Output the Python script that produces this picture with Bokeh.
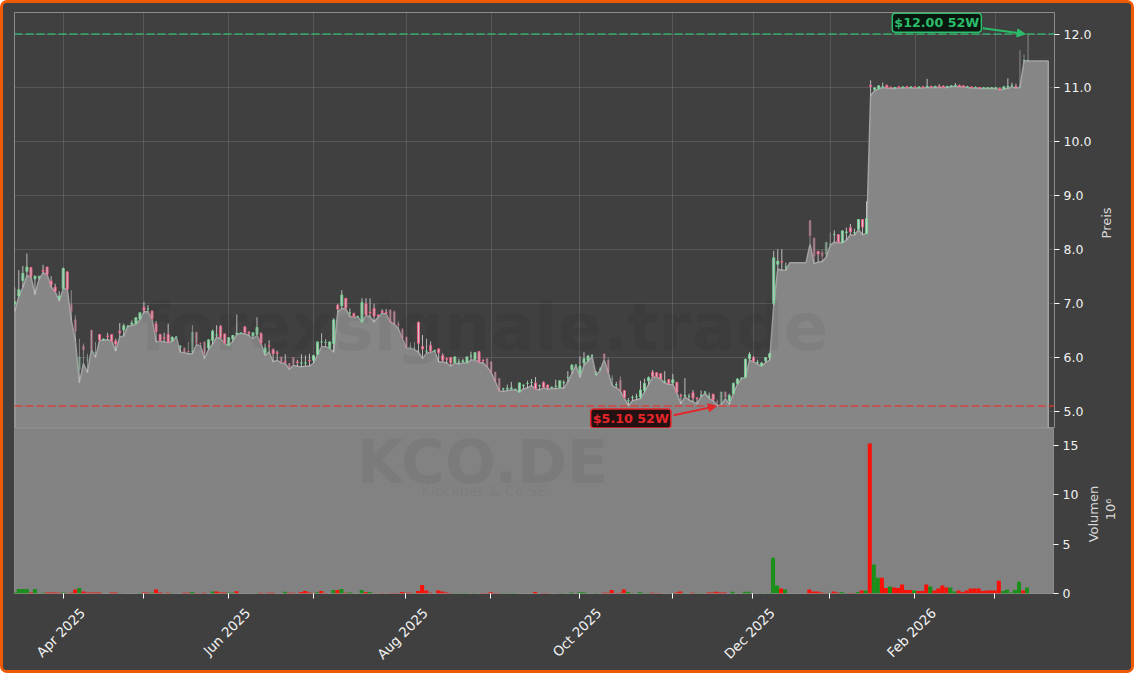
import math
from bokeh.plotting import figure
from bokeh.layouts import column, row
from bokeh.models import (ColumnDataSource, FixedTicker, Range1d, Span, Label, Arrow, NormalHead, LinearAxis)
from bokeh.embed import file_html
from bokeh.resources import INLINE

nan = float("nan")

opens = [
 6.99,7.14,7.43,7.60,7.67,7.46,7.49,7.62,7.68,7.42,
 7.31,7.10,7.28,7.59,6.99,6.70,5.78,6.21,5.95,6.51,
 6.09,6.43,6.33,6.40,6.43,6.31,6.49,6.51,6.58,6.62,
 6.63,6.72,6.93,6.90,6.86,6.63,6.43,6.37,6.43,6.31,
 6.38,6.20,6.18,6.12,6.10,6.47,6.27,6.29,6.18,6.32,
 6.42,6.58,6.44,6.23,6.35,6.44,6.45,6.57,6.47,6.40,
 6.43,6.45,6.09,6.22,6.15,6.09,6.01,5.93,5.89,6.00,
 5.92,5.90,5.90,5.95,5.95,6.06,6.29,6.28,6.17,6.26,
 6.97,6.96,7.10,6.83,6.82,6.76,6.66,7.00,6.84,6.91,
 6.79,6.86,6.84,6.88,6.85,6.62,6.52,6.38,6.20,6.18,
 6.65,6.21,6.12,6.23,6.12,6.16,6.04,5.98,6.00,5.91,
 5.92,5.93,5.91,6.03,5.97,6.11,5.95,5.98,5.92,5.73,
 5.61,5.42,5.42,5.43,5.41,5.36,5.48,5.52,5.54,5.53,
 5.48,5.54,5.49,5.45,5.47,5.44,5.53,5.63,5.78,5.86,
 5.71,5.90,5.95,6.04,5.70,5.78,6.07,5.95,5.60,5.50,
 5.58,5.39,5.20,5.26,5.27,5.27,5.39,5.57,5.73,5.72,
 5.70,5.56,5.59,5.53,5.54,5.30,5.29,5.28,5.35,5.25,
 5.30,5.36,5.28,5.32,5.18,5.14,5.36,5.20,5.33,5.52,
 5.62,5.64,5.98,6.00,5.91,5.85,5.94,6.00,7.00,7.73,
 7.78,7.68,nan,nan,nan,nan,nan,8.54,8.22,7.97,
 7.95,7.92,8.10,8.28,8.28,8.13,8.32,8.41,8.32,8.38,
 8.56,8.30,11.05,10.97,10.99,11.02,11.05,11.01,11.00,11.02,
 11.01,11.02,11.01,11.02,11.01,11.02,11.02,11.03,11.02,11.03,
 11.03,11.02,11.03,11.04,11.05,11.04,11.02,11.02,11.01,11.01,
 11.00,11.00,11.00,11.00,10.99,10.98,11.02,11.04,11.03,11.02,
 11.50,11.51,nan,nan,nan,nan,nan,
]
highs = [
 7.30,7.62,7.70,7.93,7.67,7.52,7.52,7.72,7.68,7.51,
 7.37,7.23,7.67,7.60,7.25,6.78,6.35,6.26,6.07,6.51,
 6.29,6.43,6.36,6.46,6.43,6.35,6.64,6.63,6.60,6.69,
 6.75,6.84,7.03,6.97,6.88,6.68,6.44,6.46,6.63,6.39,
 6.39,6.23,6.19,6.29,6.60,6.47,6.28,6.30,6.34,6.52,
 6.60,6.61,6.44,6.38,6.42,6.80,6.46,6.58,6.49,6.47,
 6.75,6.47,6.26,6.32,6.17,6.13,6.02,6.06,5.90,6.00,
 5.96,6.06,6.04,6.07,6.05,6.30,6.45,6.34,6.30,6.73,
 7.00,7.25,7.10,6.91,6.83,6.78,7.10,7.10,7.10,7.00,
 6.80,6.90,6.90,6.90,6.87,6.67,6.55,6.39,6.28,6.29,
 6.67,6.42,6.35,6.30,6.15,6.17,6.08,6.00,6.01,6.03,
 5.98,5.98,6.03,6.11,6.10,6.12,5.97,5.99,5.93,5.74,
 5.62,5.44,5.50,5.55,5.43,5.54,5.50,5.57,5.60,5.64,
 5.50,5.56,5.50,5.46,5.59,5.58,5.58,5.75,5.88,5.87,
 6.02,6.10,6.05,6.06,5.75,5.82,6.07,6.00,5.67,5.55,
 5.65,5.40,5.25,5.30,5.33,5.57,5.61,5.65,5.77,5.73,
 5.71,5.75,5.60,5.70,5.55,5.33,5.62,5.33,5.40,5.27,
 5.39,5.38,5.35,5.33,5.22,5.37,5.37,5.33,5.54,5.62,
 5.63,5.98,6.10,6.03,5.96,5.92,6.01,6.09,7.98,8.01,
 8.01,7.76,nan,nan,nan,nan,nan,8.55,8.22,7.98,
 8.00,8.14,8.32,8.36,8.29,8.36,8.41,8.48,8.39,8.57,
 8.57,8.90,11.14,11.02,11.05,11.10,11.06,11.03,11.02,11.04,
 11.03,11.04,11.03,11.03,11.03,11.04,11.17,11.04,11.04,11.07,
 11.05,11.04,11.05,11.09,11.06,11.05,11.04,11.03,11.03,11.02,
 11.02,11.02,11.02,11.02,11.01,11.04,11.18,11.10,11.08,11.70,
 11.62,12.00,nan,nan,nan,nan,nan,
]
lows = [
 6.85,7.14,7.30,7.52,7.50,7.17,7.45,7.57,7.54,7.31,
 7.22,7.05,7.27,7.27,6.69,6.32,5.53,5.89,5.72,6.15,
 6.00,6.32,6.32,6.33,6.31,6.12,6.38,6.40,6.58,6.59,
 6.62,6.70,6.85,6.85,6.72,6.29,6.31,6.29,6.28,6.30,
 6.38,6.10,6.09,6.07,6.07,6.24,6.22,5.98,6.15,6.25,
 6.38,6.35,6.26,6.22,6.30,6.43,6.45,6.44,6.41,6.35,
 6.41,6.26,6.04,6.10,5.92,5.95,5.90,5.89,5.78,5.86,
 5.84,5.83,5.84,5.84,5.90,6.05,6.20,6.20,6.17,6.10,
 6.85,6.91,6.90,6.76,6.75,6.75,6.66,6.78,6.76,6.66,
 6.75,6.82,6.81,6.66,6.62,6.54,6.35,6.18,6.17,6.15,
 6.10,5.98,6.08,6.10,6.12,5.92,5.92,5.90,5.84,5.90,
 5.88,5.90,5.90,5.95,5.96,5.91,5.90,5.83,5.72,5.56,
 5.38,5.37,5.39,5.40,5.40,5.36,5.42,5.44,5.48,5.42,
 5.40,5.44,5.41,5.43,5.42,5.44,5.43,5.55,5.70,5.85,
 5.63,5.86,5.93,6.02,5.67,5.76,5.96,5.72,5.48,5.44,
 5.38,5.25,5.11,5.20,5.22,5.24,5.36,5.50,5.64,5.64,
 5.60,5.53,5.50,5.50,5.35,5.14,5.27,5.21,5.18,5.14,
 5.27,5.34,5.24,5.20,5.11,5.12,5.24,5.13,5.33,5.50,
 5.61,5.63,5.95,5.92,5.88,5.84,5.91,5.95,6.97,7.64,
 7.62,7.62,7.76,7.76,7.76,7.76,7.76,8.10,7.74,7.77,
 7.78,7.86,8.08,8.14,8.13,8.13,8.18,8.28,8.27,8.37,
 8.28,8.30,10.86,10.95,10.98,11.01,11.00,10.99,10.99,11.00,
 11.00,11.01,11.00,11.00,11.00,11.00,11.01,11.01,11.01,11.01,
 11.01,11.01,11.02,11.03,11.02,11.02,11.01,11.00,11.00,10.99,
 10.99,10.99,10.99,10.99,10.96,10.98,10.99,11.02,11.00,11.01,
 11.50,11.50,11.50,11.50,11.50,11.50,11.50,
]
closes = [
 7.04,7.26,7.56,7.68,7.51,7.51,7.50,7.60,7.54,7.35,
 7.23,7.14,7.65,7.27,6.86,6.49,6.01,6.14,5.96,6.15,
 6.10,6.33,6.34,6.39,6.31,6.25,6.46,6.59,6.58,6.64,
 6.74,6.83,6.88,6.90,6.72,6.48,6.32,6.36,6.29,6.38,
 6.38,6.21,6.10,6.11,6.47,6.26,6.26,6.07,6.33,6.49,
 6.42,6.37,6.27,6.37,6.41,6.45,6.45,6.47,6.45,6.46,
 6.56,6.27,6.18,6.21,6.07,6.08,5.91,5.92,5.81,5.89,
 5.91,5.90,5.90,5.94,6.04,6.29,6.29,6.28,6.29,6.70,
 6.90,7.16,6.92,6.83,6.76,6.76,7.02,6.79,6.83,6.77,
 6.78,6.84,6.83,6.66,6.63,6.60,6.36,6.19,6.20,6.18,
 6.26,6.16,6.12,6.12,6.13,6.09,5.95,5.97,5.90,6.01,
 5.92,5.94,6.01,6.03,6.09,5.92,5.94,5.84,5.73,5.57,
 5.39,5.42,5.43,5.44,5.41,5.53,5.49,5.52,5.54,5.42,
 5.48,5.45,5.44,5.45,5.47,5.57,5.54,5.63,5.86,5.86,
 5.84,5.98,6.03,6.04,5.70,5.78,5.98,5.73,5.60,5.50,
 5.39,5.26,5.20,5.26,5.27,5.40,5.52,5.63,5.65,5.65,
 5.61,5.56,5.52,5.59,5.36,5.29,5.30,5.28,5.25,5.24,
 5.30,5.36,5.28,5.22,5.17,5.36,5.27,5.30,5.52,5.60,
 5.62,5.97,6.06,5.94,5.91,5.90,6.00,6.07,7.85,7.79,
 7.77,7.68,nan,nan,nan,nan,nan,8.26,7.88,7.92,
 7.88,8.14,8.11,8.28,8.14,8.35,8.33,8.33,8.32,8.56,
 8.42,8.58,11.03,11.00,11.04,11.02,11.01,11.00,11.01,11.01,
 11.02,11.01,11.02,11.01,11.02,11.01,11.03,11.02,11.03,11.02,
 11.01,11.03,11.04,11.05,11.03,11.02,11.02,11.01,11.01,11.00,
 11.00,11.00,11.00,11.00,10.97,11.02,11.03,11.04,11.02,11.03,
 11.52,11.52,nan,nan,nan,nan,nan,
]
volumes_m = [
 .15,.45,.45,.45,.10,.45,.02,.07,.10,.10,
 .10,.08,.10,.06,.08,.40,.55,.20,.10,.10,
 .10,.10,.01,.01,.10,.10,.05,.01,.01,.01,
 .01,.05,.10,.07,.07,.40,.10,.02,.07,.04,
 .01,.01,.08,.08,.15,.06,.02,.07,.01,.20,
 .20,.10,.10,.07,.07,.22,.01,.01,.01,.01,
 .05,.08,.02,.08,.08,.01,.01,.18,.08,.08,
 .02,.15,.25,.10,.05,.12,.25,.05,.01,.35,
 .35,.45,.08,.12,.05,.01,.35,.15,.15,.02,
 .01,.05,.01,.06,.06,.06,.15,.07,.07,.05,
 .25,.85,.30,.08,.01,.30,.20,.10,.05,.05,
 .05,.05,.05,.01,.05,.01,.06,.06,.12,.06,
 .06,.05,.05,.05,.05,.01,.01,.01,.01,.15,
 .01,.06,.06,.01,.01,.06,.06,.01,.10,.01,
 .12,.12,.05,.01,.04,.01,.07,.07,.35,.05,
 .07,.40,.15,.05,.01,.15,.05,.05,.08,.05,
 .05,.01,.01,.05,.10,.20,.05,.01,.07,.05,
 .05,.01,.10,.10,.18,.10,.10,.01,.18,.01,
 .01,.17,.17,.01,.01,.05,.01,.05,3.62,.80,
 .50,.40,0,0,0,0,0,.40,.20,.20,
 .10,.05,.05,.20,.10,.15,.05,.05,.05,.15,
 .30,.30,15.2,2.95,1.60,1.60,.55,.70,.60,.55,
 .90,.35,.35,.30,.25,.25,.90,.70,.30,.50,
 .80,.60,.60,.20,.30,.15,.30,.50,.50,.50,
 .25,.30,.30,.30,1.30,.25,.40,.10,.35,1.20,
 .30,.60,0,0,0,0,0,
]
volume_up = [
 1,1,1,1,0,1,1,1,0,0,
 0,0,1,0,0,0,1,0,0,0,
 0,0,0,0,0,0,1,1,1,1,
 1,1,0,0,1,0,0,0,0,1,
 0,0,0,0,1,0,0,0,0,1,
 0,0,0,1,1,0,0,0,0,0,
 1,0,0,0,0,0,0,1,0,0,
 0,0,0,0,0,1,0,0,0,1,
 0,1,0,1,1,1,1,0,1,0,
 0,0,0,0,0,0,0,0,0,1,
 0,0,0,0,0,0,0,0,0,1,
 1,1,1,0,1,0,0,0,0,0,
 0,1,1,1,1,0,0,0,0,0,
 0,0,0,0,0,1,1,0,1,0,
 1,1,1,0,1,0,0,0,0,0,
 0,0,1,1,0,1,1,1,0,0,
 0,0,0,1,0,0,1,0,0,1,
 1,0,0,0,0,0,0,0,1,0,
 0,1,1,0,0,1,0,1,1,1,
 0,1,0,0,0,0,0,0,0,0,
 0,0,1,0,0,1,1,0,0,1,
 0,1,0,1,1,0,0,1,0,0,
 0,0,0,1,0,0,0,1,0,0,
 0,0,1,1,0,0,0,0,0,0,
 0,0,0,0,0,1,1,1,1,1,
 0,1,0,0,0,0,0,
]
faded_bars = [14,15,16,17,18,19,20,42,43,44,45,46,47,66,68,69,93,94,95,96,97,98,99,
              117,118,119,120,146,147,148,150,174,175,176,197,198,200,201,202,249,250,251]
month_ticks = [12,32,53,74,97,118,140,163,183,202,223,243]
month_labels = {12:"Apr 2025",53:"Jun 2025",97:"Aug 2025",140:"Oct 2025",183:"Dec 2025",223:"Feb 2026"}
price_ticks = [5,6,7,8,9,10,11,12]
volume_ticks = [0,5,10,15]
high_52w, low_52w = 12.00, 5.10

BG = "#404040"
n = len(lows)
idx = list(range(n))
faded = set(faded_bars)
up = [c >= o if not (math.isnan(o) or math.isnan(c)) else True for o, c in zip(opens, closes)]

src = ColumnDataSource(dict(
    x=idx, open=opens, high=highs, low=lows, close=closes,
    top=[max(o, c) for o, c in zip(opens, closes)],
    bot=[min(o, c) for o, c in zip(opens, closes)],
    edge=["#6fdc93" if u else "#ff5c86" for u in up],
    la=[0.35 if i in faded else 0.95 for i in idx],
    fa=[0.3 if i in faded else 0.7 for i in idx],
    wa=[0.5 if i in faded else 0.85 for i in idx],
))
vsrc = ColumnDataSource(dict(x=idx, v=volumes_m,
                             c=["#1a8f1a" if u else "#fa1006" for u in volume_up]))

xr = Range1d(-0.07, 257.55)
p1 = figure(width=1091, height=425, x_range=xr, y_range=Range1d(4.685, 12.40),
            output_backend="svg", toolbar_location=None, y_axis_location="right",
            background_fill_color=BG, border_fill_color=BG,
            min_border_left=11, min_border_right=40, min_border_top=9, min_border_bottom=0)
p2 = figure(width=1078, height=242, x_range=xr, y_range=Range1d(0, 16.72),
            output_backend="svg", toolbar_location=None, y_axis_location="right",
            background_fill_color="#828282", border_fill_color=BG,
            min_border_left=11, min_border_right=27, min_border_top=0, min_border_bottom=76)

for p in (p1, p2):
    p.outline_line_color = "#8c8c8c"
    p.outline_line_width = 1
    y = p.yaxis[0]
    y.axis_line_color = None
    y.major_tick_line_color = "#ffffff"
    y.major_tick_out = 5
    y.major_tick_in = 0
    y.minor_tick_line_color = None
    y.major_label_text_color = "#f2f2f2"
    y.major_label_text_font = "DejaVu Sans"
    y.major_label_text_font_size = "12.5px"
    y.major_label_standoff = 4

p1.xaxis.visible = False
p1.xgrid.ticker = FixedTicker(ticks=month_ticks)
p1.xgrid.grid_line_color = "#ffffff"
p1.xgrid.grid_line_alpha = 0.12
p1.ygrid.grid_line_color = "#ffffff"
p1.ygrid.grid_line_alpha = 0.12
p1.yaxis[0].ticker = FixedTicker(ticks=price_ticks)
p1.yaxis[0].major_label_overrides = {t: f"{t:.1f}" for t in price_ticks}

p2.xgrid.grid_line_color = None
p2.ygrid.grid_line_color = None
p2.yaxis[0].ticker = FixedTicker(ticks=volume_ticks)
p2.yaxis[0].major_label_overrides = {t: str(t) for t in volume_ticks}

# narrow strips to the right of the panels carry the upward-reading axis titles
def title_strip(w, h, items):
    s = figure(width=w, height=h, x_range=Range1d(0, w), y_range=Range1d(0, h),
               output_backend="svg", toolbar_location=None,
               background_fill_color=BG, border_fill_color=BG, outline_line_color=None,
               min_border_left=0, min_border_right=0, min_border_top=0, min_border_bottom=0)
    s.axis.visible = False
    s.grid.visible = False
    for x, yy, t in items:
        s.add_layout(Label(x=x, y=yy, text=t, angle=math.pi / 2, angle_units="rad", text_color="#d8d8d8",
                           text_font="DejaVu Sans", text_font_size="13px", text_align="center",
                           text_baseline="middle"))
    return s

s1 = title_strip(37, 425, [(12, 210, "Preis")])
s2 = title_strip(50, 242, [(12, 116.5, "Volumen"), (29, 123.5, "10⁶")])

# tick marks on one bottom axis, month names on a second one whose anchors sit
# to the right of the ticks, so that the slanted names are centred under them
xa = p2.xaxis[0]
xa.ticker = FixedTicker(ticks=month_ticks)
xa.major_label_overrides = {t: " " for t in month_ticks}
xa.axis_line_color = None
xa.major_tick_line_color = "#ffffff"
xa.major_tick_out = 5
xa.major_tick_in = 0
xa.minor_tick_line_color = None
xa.major_label_text_font_size = "1px"
xa.major_label_standoff = 0

LABEL_SHIFT = 4.8
shifted = {t + LABEL_SHIFT: month_labels[t] for t in month_labels}
xb = LinearAxis(ticker=FixedTicker(ticks=list(shifted)), major_label_overrides=shifted,
                major_label_orientation=math.pi / 4, axis_line_color=None,
                major_tick_line_color=None, minor_tick_line_color=None,
                major_label_text_color="#f2f2f2", major_label_text_font="DejaVu Sans",
                major_label_text_font_size="13.5px", major_label_standoff=2)
p2.add_layout(xb, "below")

# area under the daily lows
bottom = p1.y_range.start
p1.patch([idx[0]] + idx + [idx[-1]], [bottom] + lows + [bottom],
         fill_color="#868686", line_color="#a2a2a2", line_width=1.5)
# candles
p1.segment("x", "high", "x", "low", source=src, line_color="#d4d4d4", line_width=1, line_alpha="wa")
p1.vbar("x", 0.5, "bot", "top", source=src, fill_color="#d0d0d0", fill_alpha="fa",
        line_color="edge", line_alpha="la", line_width=0.9)

p1.add_layout(Span(location=high_52w, dimension="width", line_color="#2ecc71", line_alpha=0.75,
                   line_dash=[8, 3], line_width=1.5))
p1.add_layout(Span(location=low_52w, dimension="width", line_color="#e8352e", line_alpha=0.8,
                   line_dash=[8, 3], line_width=1.5))

def annotate(text, color, dark, x, y, x0, y0, x1, y1):
    p1.add_layout(Arrow(end=NormalHead(size=8, fill_color=color, line_color=color), line_color=color,
                        line_width=2, x_start=x0, y_start=y0, x_end=x1, y_end=y1))
    p1.add_layout(Label(x=x, y=y, text=text, text_color=color, text_font="DejaVu Sans",
                        text_font_style="bold", text_font_size="12.7px", text_align="center",
                        text_baseline="middle", background_fill_color=dark, background_fill_alpha=0.92,
                        border_line_color=color, border_line_width=1.5, border_radius=3,
                        padding=2))

annotate("$12.00 52W", "#2cbc6a", "#04140a", 228.4, 12.21, 239.8, 12.11, 250.3, 12.0)
annotate("$5.10 52W", "#e5262b", "#1c0808", 152.6, 4.87, 163.2, 4.93, 173.8, 5.10)

wm = dict(text_color="#000000", text_alpha=0.05, text_font="DejaVu Sans", text_align="center",
          text_baseline="middle")
p1.add_layout(Label(x=116.3, y=6.55, text="forexsignale.trade", text_font_style="bold",
                    text_font_size="66px", **wm))
p2.add_layout(Label(x=116, y=13.3, text="KCO.DE", text_font_style="bold", text_font_size="60px", **wm))
p2.add_layout(Label(x=116.3, y=10.4, text="Klöckner & Co SE", text_font_size="14.5px", **wm))

p2.vbar("x", 1.0, 0, "v", source=vsrc, fill_color="c", line_color=None)

layout = column(row(p1, s1, spacing=0), row(p2, s2, spacing=0), spacing=0, width=1134, height=673, styles={
    "border": "3px solid #ee5a04", "box-sizing": "border-box",
    "border-radius": "7px", "overflow": "hidden", "background": BG})

open("out.html", "w").write(file_html(layout, INLINE))
